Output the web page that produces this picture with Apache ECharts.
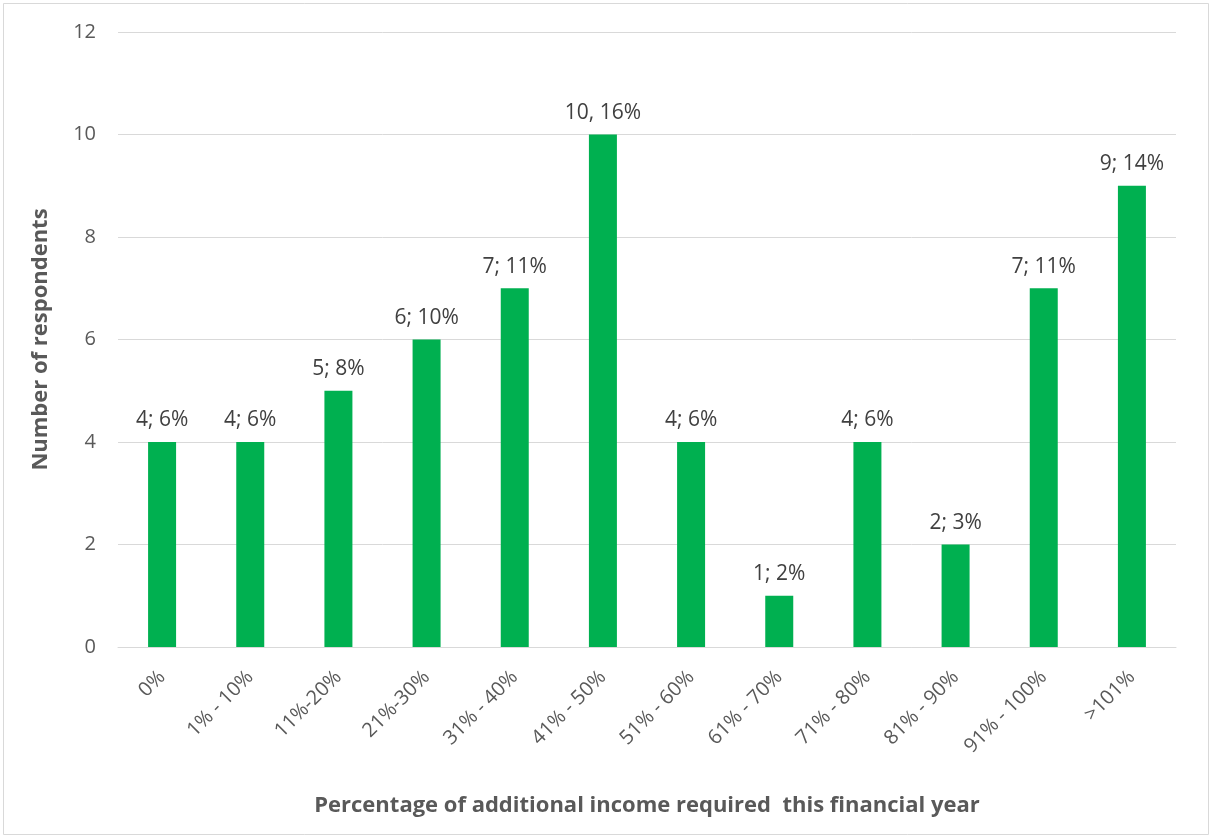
<!DOCTYPE html>
<html>
<head>
<meta charset="utf-8">
<script src="https://cdn.jsdelivr.net/npm/echarts@6/dist/echarts.min.js"></script>
<style>
  html, body { margin: 0; padding: 0; background: #fff; }
  #chart { width: 1212px; height: 838px; }
</style>
</head>
<body>
<div id="chart"></div>
<script>
// Income bands and respondent counts
const categories = ['0%', '1% - 10%', '11%-20%', '21%-30%', '31% - 40%', '41% - 50%',
  '51% - 60%', '61% - 70%', '71% - 80%', '81% - 90%', '91% - 100%', '>101%'];
const respondents = [4, 4, 5, 6, 7, 10, 4, 1, 4, 2, 7, 9];
const shares = ['6%', '6%', '8%', '10%', '11%', '16%', '6%', '2%', '6%', '3%', '11%', '14%'];
const separators = [';', ';', ';', ';', ';', ',', ';', ';', ';', ';', ';', ';'];
const yTicks = { min: 0, max: 12, interval: 2 };

const font = '"Open Sans", "Noto Sans", sans-serif';
const textColor = '#595959';

const chart = echarts.init(document.getElementById('chart'), null, { renderer: 'canvas' });
chart.setOption({
  animation: false,
  backgroundColor: '#fff',
  graphic: [{
    type: 'rect',
    shape: { x: 3.5, y: 3.5, width: 1205, height: 831 },
    style: { fill: 'none', stroke: '#D9D9D9', lineWidth: 1 },
    silent: true
  }],
  grid: { left: 118, right: 36, top: 32, bottom: 191 },
  xAxis: {
    type: 'category',
    data: categories,
    axisTick: { show: false },
    axisLine: { lineStyle: { color: '#D9D9D9', width: 1 } },
    axisLabel: { rotate: 45, color: textColor, fontFamily: font, fontSize: 20, margin: 27 },
    name: 'Percentage of additional income required  this financial year',
    nameLocation: 'middle',
    nameGap: 148,
    nameTextStyle: { color: textColor, fontFamily: font, fontSize: 22, fontWeight: 'bold' }
  },
  yAxis: {
    type: 'value',
    min: yTicks.min, max: yTicks.max, interval: yTicks.interval,
    axisLine: { show: false },
    axisTick: { show: false },
    splitLine: { lineStyle: { color: '#D9D9D9', width: 1 } },
    axisLabel: { color: textColor, fontFamily: font, fontSize: 20, margin: 22 },
    name: 'Number of respondents',
    nameLocation: 'middle',
    nameGap: 66,
    nameTextStyle: { color: textColor, fontFamily: font, fontSize: 22, fontWeight: 'bold' }
  },
  series: [{
    type: 'bar',
    data: respondents,
    barWidth: 28,
    itemStyle: { color: '#00B050' },
    label: {
      show: true,
      position: 'top',
      distance: 11,
      color: '#404040',
      fontFamily: font,
      fontSize: 21,
      formatter: p => respondents[p.dataIndex] + separators[p.dataIndex] + ' ' + shares[p.dataIndex]
    }
  }]
});
</script>
</body>
</html>
